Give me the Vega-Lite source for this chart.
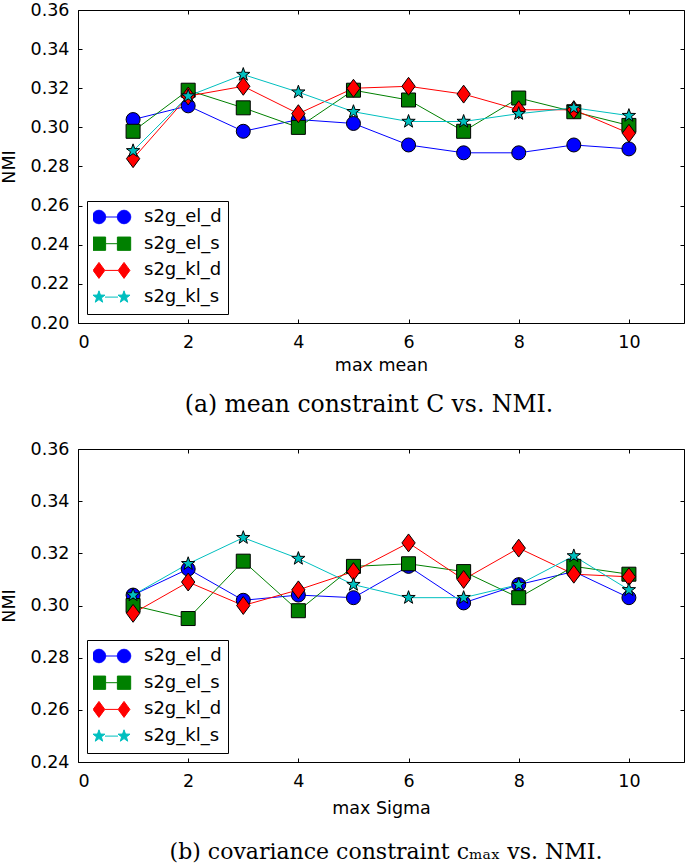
{
  "$schema": "https://vega.github.io/schema/vega-lite/v6.json",
  "padding": {"left": 0, "top": 0, "right": 2, "bottom": 0},
  "autosize": {"type": "pad"},
  "spacing": 22,
  "resolve": {"scale": {"color": "independent", "shape": "independent"}, "legend": {"color": "independent", "shape": "independent"}},
  "vconcat": [
    {
      "width": 606,
      "height": 313,
      "title": {"text": "(a) mean constraint C vs. NMI.", "orient": "bottom", "offset": 19, "dx": -12, "font": "DejaVu Serif", "fontSize": 23.5, "fontWeight": "normal", "color": "black", "anchor": "middle"},
      "data": {"values": [
        {"x": 1, "nmi": 0.304, "series": "s2g_el_d"}, {"x": 2, "nmi": 0.311, "series": "s2g_el_d"}, {"x": 3, "nmi": 0.298, "series": "s2g_el_d"}, {"x": 4, "nmi": 0.304, "series": "s2g_el_d"}, {"x": 5, "nmi": 0.302, "series": "s2g_el_d"}, {"x": 6, "nmi": 0.291, "series": "s2g_el_d"}, {"x": 7, "nmi": 0.287, "series": "s2g_el_d"}, {"x": 8, "nmi": 0.287, "series": "s2g_el_d"}, {"x": 9, "nmi": 0.291, "series": "s2g_el_d"}, {"x": 10, "nmi": 0.289, "series": "s2g_el_d"},
        {"x": 1, "nmi": 0.298, "series": "s2g_el_s"}, {"x": 2, "nmi": 0.319, "series": "s2g_el_s"}, {"x": 3, "nmi": 0.310, "series": "s2g_el_s"}, {"x": 4, "nmi": 0.300, "series": "s2g_el_s"}, {"x": 5, "nmi": 0.319, "series": "s2g_el_s"}, {"x": 6, "nmi": 0.314, "series": "s2g_el_s"}, {"x": 7, "nmi": 0.298, "series": "s2g_el_s"}, {"x": 8, "nmi": 0.315, "series": "s2g_el_s"}, {"x": 9, "nmi": 0.308, "series": "s2g_el_s"}, {"x": 10, "nmi": 0.301, "series": "s2g_el_s"},
        {"x": 1, "nmi": 0.284, "series": "s2g_kl_d"}, {"x": 2, "nmi": 0.316, "series": "s2g_kl_d"}, {"x": 3, "nmi": 0.321, "series": "s2g_kl_d"}, {"x": 4, "nmi": 0.307, "series": "s2g_kl_d"}, {"x": 5, "nmi": 0.320, "series": "s2g_kl_d"}, {"x": 6, "nmi": 0.321, "series": "s2g_kl_d"}, {"x": 7, "nmi": 0.317, "series": "s2g_kl_d"}, {"x": 8, "nmi": 0.309, "series": "s2g_kl_d"}, {"x": 9, "nmi": 0.309, "series": "s2g_kl_d"}, {"x": 10, "nmi": 0.297, "series": "s2g_kl_d"},
        {"x": 1, "nmi": 0.288, "series": "s2g_kl_s"}, {"x": 2, "nmi": 0.316, "series": "s2g_kl_s"}, {"x": 3, "nmi": 0.327, "series": "s2g_kl_s"}, {"x": 4, "nmi": 0.318, "series": "s2g_kl_s"}, {"x": 5, "nmi": 0.308, "series": "s2g_kl_s"}, {"x": 6, "nmi": 0.303, "series": "s2g_kl_s"}, {"x": 7, "nmi": 0.303, "series": "s2g_kl_s"}, {"x": 8, "nmi": 0.307, "series": "s2g_kl_s"}, {"x": 9, "nmi": 0.310, "series": "s2g_kl_s"}, {"x": 10, "nmi": 0.306, "series": "s2g_kl_s"}
      ]},
      "layer": [
        {
          "mark": {"type": "line", "strokeWidth": 1},
          "encoding": {
            "x": {"field": "x", "type": "quantitative", "scale": {"domain": [0, 11], "nice": false}, "axis": {"values": [0, 2, 4, 6, 8, 10], "format": "d", "title": "max mean", "titlePadding": 6, "labelPadding": 14}},
            "y": {"field": "nmi", "type": "quantitative", "scale": {"domain": [0.2, 0.36], "nice": false, "zero": false}, "axis": {"values": [0.2, 0.22, 0.24, 0.26, 0.28, 0.3, 0.32, 0.34, 0.36], "format": ".2f", "title": "NMI", "titlePadding": 11.5, "labelPadding": 13}},
            "color": {"field": "series", "type": "nominal", "scale": {"domain": ["s2g_el_d", "s2g_el_s", "s2g_kl_d", "s2g_kl_s"], "range": ["#0000ff", "#008000", "#ff0000", "#00bfbf"]}, "legend": {"title": null}}
          }
        },
        {
          "transform": [{"filter": "datum.series === 's2g_el_d'"}],
          "mark": {"type": "point", "shape": "circle", "filled": true, "size": 196, "stroke": "black", "strokeWidth": 1, "opacity": 1},
          "encoding": {"x": {"field": "x", "type": "quantitative", "axis": null}, "y": {"field": "nmi", "type": "quantitative", "axis": null}, "color": {"field": "series", "type": "nominal", "legend": {"title": null}}}
        },
        {
          "transform": [{"filter": "datum.series === 's2g_el_s'"}],
          "mark": {"type": "point", "shape": "square", "filled": true, "size": 196, "stroke": "black", "strokeWidth": 1, "opacity": 1},
          "encoding": {"x": {"field": "x", "type": "quantitative", "axis": null}, "y": {"field": "nmi", "type": "quantitative", "axis": null}, "color": {"field": "series", "type": "nominal", "legend": {"title": null}}}
        },
        {
          "transform": [{"filter": "datum.series === 's2g_kl_d'"}],
          "mark": {"type": "point", "shape": "M0,-1.28L0.95,0L0,1.28L-0.95,0Z", "filled": true, "size": 196, "stroke": "black", "strokeWidth": 1, "opacity": 1},
          "encoding": {"x": {"field": "x", "type": "quantitative", "axis": null}, "y": {"field": "nmi", "type": "quantitative", "axis": null}, "color": {"field": "series", "type": "nominal", "legend": {"title": null}}}
        },
        {
          "transform": [{"filter": "datum.series === 's2g_kl_s'"}],
          "mark": {"type": "point", "shape": "M0,-1L0.235,-0.324L0.951,-0.309L0.38,0.124L0.588,0.809L0,0.4L-0.588,0.809L-0.38,0.124L-0.951,-0.309L-0.235,-0.324Z", "filled": true, "size": 196, "stroke": "black", "strokeWidth": 1, "opacity": 1},
          "encoding": {"x": {"field": "x", "type": "quantitative", "axis": null}, "y": {"field": "nmi", "type": "quantitative", "axis": null}, "color": {"field": "series", "type": "nominal", "legend": {"title": null}}}
        },
        {
          "transform": [{"filter": "datum.x > 100"}],
          "mark": {"type": "point", "filled": true, "size": 196, "stroke": "black", "strokeWidth": 1, "opacity": 1},
          "encoding": {
            "x": {"field": "x", "type": "quantitative", "axis": null},
            "y": {"field": "nmi", "type": "quantitative", "axis": null},
            "color": {"field": "series", "type": "nominal", "legend": {"title": null}},
            "shape": {"field": "series", "type": "nominal", "scale": {"domain": ["s2g_el_d", "s2g_el_s", "s2g_kl_d", "s2g_kl_s"], "range": [
              "M-0.83,0A0.96,0.96,0,1,1,-2.75,0A0.96,0.96,0,1,1,-0.83,0ZM2.75,0A0.96,0.96,0,1,1,0.83,0A0.96,0.96,0,1,1,2.75,0ZM-0.83,0L0.83,0",
              "M-2.74,-0.95L-0.84,-0.95L-0.84,0.95L-2.74,0.95ZM0.84,-0.95L2.74,-0.95L2.74,0.95L0.84,0.95ZM-0.84,0L0.84,0",
              "M-1.79,-1.14L-0.95,0L-1.79,1.14L-2.63,0ZM1.79,-1.14L2.63,0L1.79,1.14L0.95,0ZM-0.95,0L0.95,0",
              "M-1.79,-0.9L-1.578,-0.292L-0.934,-0.278L-1.448,0.112L-1.261,0.728L-1.79,0.36L-2.319,0.728L-2.132,0.112L-2.646,-0.278L-2.002,-0.292ZM1.79,-0.9L2.002,-0.292L2.646,-0.278L2.132,0.112L2.319,0.728L1.79,0.36L1.261,0.728L1.448,0.112L0.934,-0.278L1.578,-0.292ZM-0.93,0L0.93,0"
            ]}, "legend": {"title": null}}
          }
        },
        {
          "mark": {"type": "point", "opacity": 0},
          "encoding": {
            "x": {"field": "x", "type": "quantitative", "axis": {"orient": "top", "values": [0, 2, 4, 6, 8, 10], "labels": false, "title": null}},
            "y": {"field": "nmi", "type": "quantitative", "axis": {"orient": "right", "values": [0.2, 0.22, 0.24, 0.26, 0.28, 0.3, 0.32, 0.34, 0.36], "labels": false, "title": null}}
          }
        }
      ],
      "resolve": {"axis": {"x": "independent", "y": "independent"}}
    },
    {
      "width": 606,
      "height": 313,
      "title": {"text": "(b) covariance constraint cₘₐₓ vs. NMI.", "orient": "bottom", "offset": 25, "dx": 5, "font": "DejaVu Serif", "fontSize": 22, "fontWeight": "normal", "color": "black", "anchor": "middle"},
      "data": {"values": [
        {"x": 1, "nmi": 0.304, "series": "s2g_el_d"}, {"x": 2, "nmi": 0.314, "series": "s2g_el_d"}, {"x": 3, "nmi": 0.302, "series": "s2g_el_d"}, {"x": 4, "nmi": 0.304, "series": "s2g_el_d"}, {"x": 5, "nmi": 0.303, "series": "s2g_el_d"}, {"x": 6, "nmi": 0.315, "series": "s2g_el_d"}, {"x": 7, "nmi": 0.301, "series": "s2g_el_d"}, {"x": 8, "nmi": 0.308, "series": "s2g_el_d"}, {"x": 9, "nmi": 0.313, "series": "s2g_el_d"}, {"x": 10, "nmi": 0.303, "series": "s2g_el_d"},
        {"x": 1, "nmi": 0.300, "series": "s2g_el_s"}, {"x": 2, "nmi": 0.295, "series": "s2g_el_s"}, {"x": 3, "nmi": 0.317, "series": "s2g_el_s"}, {"x": 4, "nmi": 0.298, "series": "s2g_el_s"}, {"x": 5, "nmi": 0.315, "series": "s2g_el_s"}, {"x": 6, "nmi": 0.316, "series": "s2g_el_s"}, {"x": 7, "nmi": 0.313, "series": "s2g_el_s"}, {"x": 8, "nmi": 0.303, "series": "s2g_el_s"}, {"x": 9, "nmi": 0.315, "series": "s2g_el_s"}, {"x": 10, "nmi": 0.312, "series": "s2g_el_s"},
        {"x": 1, "nmi": 0.297, "series": "s2g_kl_d"}, {"x": 2, "nmi": 0.309, "series": "s2g_kl_d"}, {"x": 3, "nmi": 0.300, "series": "s2g_kl_d"}, {"x": 4, "nmi": 0.306, "series": "s2g_kl_d"}, {"x": 5, "nmi": 0.313, "series": "s2g_kl_d"}, {"x": 6, "nmi": 0.324, "series": "s2g_kl_d"}, {"x": 7, "nmi": 0.310, "series": "s2g_kl_d"}, {"x": 8, "nmi": 0.322, "series": "s2g_kl_d"}, {"x": 9, "nmi": 0.312, "series": "s2g_kl_d"}, {"x": 10, "nmi": 0.311, "series": "s2g_kl_d"},
        {"x": 1, "nmi": 0.304, "series": "s2g_kl_s"}, {"x": 2, "nmi": 0.316, "series": "s2g_kl_s"}, {"x": 3, "nmi": 0.326, "series": "s2g_kl_s"}, {"x": 4, "nmi": 0.318, "series": "s2g_kl_s"}, {"x": 5, "nmi": 0.308, "series": "s2g_kl_s"}, {"x": 6, "nmi": 0.303, "series": "s2g_kl_s"}, {"x": 7, "nmi": 0.303, "series": "s2g_kl_s"}, {"x": 8, "nmi": 0.308, "series": "s2g_kl_s"}, {"x": 9, "nmi": 0.319, "series": "s2g_kl_s"}, {"x": 10, "nmi": 0.306, "series": "s2g_kl_s"}
      ]},
      "layer": [
        {
          "mark": {"type": "line", "strokeWidth": 1},
          "encoding": {
            "x": {"field": "x", "type": "quantitative", "scale": {"domain": [0, 11], "nice": false}, "axis": {"values": [0, 2, 4, 6, 8, 10], "format": "d", "title": "max Sigma", "titlePadding": 10, "labelPadding": 14}},
            "y": {"field": "nmi", "type": "quantitative", "scale": {"domain": [0.24, 0.36], "nice": false, "zero": false}, "axis": {"values": [0.24, 0.26, 0.28, 0.3, 0.32, 0.34, 0.36], "format": ".2f", "title": "NMI", "titlePadding": 11.5, "labelPadding": 13}},
            "color": {"field": "series", "type": "nominal", "scale": {"domain": ["s2g_el_d", "s2g_el_s", "s2g_kl_d", "s2g_kl_s"], "range": ["#0000ff", "#008000", "#ff0000", "#00bfbf"]}, "legend": {"title": null}}
          }
        },
        {
          "transform": [{"filter": "datum.series === 's2g_el_d'"}],
          "mark": {"type": "point", "shape": "circle", "filled": true, "size": 196, "stroke": "black", "strokeWidth": 1, "opacity": 1},
          "encoding": {"x": {"field": "x", "type": "quantitative", "axis": null}, "y": {"field": "nmi", "type": "quantitative", "axis": null}, "color": {"field": "series", "type": "nominal", "legend": {"title": null}}}
        },
        {
          "transform": [{"filter": "datum.series === 's2g_el_s'"}],
          "mark": {"type": "point", "shape": "square", "filled": true, "size": 196, "stroke": "black", "strokeWidth": 1, "opacity": 1},
          "encoding": {"x": {"field": "x", "type": "quantitative", "axis": null}, "y": {"field": "nmi", "type": "quantitative", "axis": null}, "color": {"field": "series", "type": "nominal", "legend": {"title": null}}}
        },
        {
          "transform": [{"filter": "datum.series === 's2g_kl_d'"}],
          "mark": {"type": "point", "shape": "M0,-1.28L0.95,0L0,1.28L-0.95,0Z", "filled": true, "size": 196, "stroke": "black", "strokeWidth": 1, "opacity": 1},
          "encoding": {"x": {"field": "x", "type": "quantitative", "axis": null}, "y": {"field": "nmi", "type": "quantitative", "axis": null}, "color": {"field": "series", "type": "nominal", "legend": {"title": null}}}
        },
        {
          "transform": [{"filter": "datum.series === 's2g_kl_s'"}],
          "mark": {"type": "point", "shape": "M0,-1L0.235,-0.324L0.951,-0.309L0.38,0.124L0.588,0.809L0,0.4L-0.588,0.809L-0.38,0.124L-0.951,-0.309L-0.235,-0.324Z", "filled": true, "size": 196, "stroke": "black", "strokeWidth": 1, "opacity": 1},
          "encoding": {"x": {"field": "x", "type": "quantitative", "axis": null}, "y": {"field": "nmi", "type": "quantitative", "axis": null}, "color": {"field": "series", "type": "nominal", "legend": {"title": null}}}
        },
        {
          "transform": [{"filter": "datum.x > 100"}],
          "mark": {"type": "point", "filled": true, "size": 196, "stroke": "black", "strokeWidth": 1, "opacity": 1},
          "encoding": {
            "x": {"field": "x", "type": "quantitative", "axis": null},
            "y": {"field": "nmi", "type": "quantitative", "axis": null},
            "color": {"field": "series", "type": "nominal", "legend": {"title": null}},
            "shape": {"field": "series", "type": "nominal", "scale": {"domain": ["s2g_el_d", "s2g_el_s", "s2g_kl_d", "s2g_kl_s"], "range": [
              "M-0.83,0A0.96,0.96,0,1,1,-2.75,0A0.96,0.96,0,1,1,-0.83,0ZM2.75,0A0.96,0.96,0,1,1,0.83,0A0.96,0.96,0,1,1,2.75,0ZM-0.83,0L0.83,0",
              "M-2.74,-0.95L-0.84,-0.95L-0.84,0.95L-2.74,0.95ZM0.84,-0.95L2.74,-0.95L2.74,0.95L0.84,0.95ZM-0.84,0L0.84,0",
              "M-1.79,-1.14L-0.95,0L-1.79,1.14L-2.63,0ZM1.79,-1.14L2.63,0L1.79,1.14L0.95,0ZM-0.95,0L0.95,0",
              "M-1.79,-0.9L-1.578,-0.292L-0.934,-0.278L-1.448,0.112L-1.261,0.728L-1.79,0.36L-2.319,0.728L-2.132,0.112L-2.646,-0.278L-2.002,-0.292ZM1.79,-0.9L2.002,-0.292L2.646,-0.278L2.132,0.112L2.319,0.728L1.79,0.36L1.261,0.728L1.448,0.112L0.934,-0.278L1.578,-0.292ZM-0.93,0L0.93,0"
            ]}, "legend": {"title": null}}
          }
        },
        {
          "mark": {"type": "point", "opacity": 0},
          "encoding": {
            "x": {"field": "x", "type": "quantitative", "axis": {"orient": "top", "values": [0, 2, 4, 6, 8, 10], "labels": false, "title": null}},
            "y": {"field": "nmi", "type": "quantitative", "axis": {"orient": "right", "values": [0.24, 0.26, 0.28, 0.3, 0.32, 0.34, 0.36], "labels": false, "title": null}}
          }
        }
      ],
      "resolve": {"axis": {"x": "independent", "y": "independent"}}
    }
  ],
  "config": {
    "font": "DejaVu Sans",
    "view": {"stroke": "black", "strokeWidth": 1},
    "axis": {"domain": false, "grid": false, "ticks": true, "tickColor": "black", "tickWidth": 1, "tickSize": -4, "labelFont": "DejaVu Sans", "labelFontSize": 17.5, "labelColor": "black", "titleFont": "DejaVu Sans", "titleFontSize": 17.5, "titleFontWeight": "normal", "titleColor": "black"},
    "legend": {"orient": "bottom-left", "offset": 9, "padding": 6, "strokeColor": "black", "fillColor": "white", "cornerRadius": 0, "labelFont": "DejaVu Sans", "labelFontSize": 18, "labelColor": "black", "symbolSize": 196, "symbolOffset": 9.5, "labelOffset": 23.5, "clipHeight": 20, "rowPadding": 6.7, "symbolStrokeColor": "black", "symbolStrokeWidth": 1}
  }
}
